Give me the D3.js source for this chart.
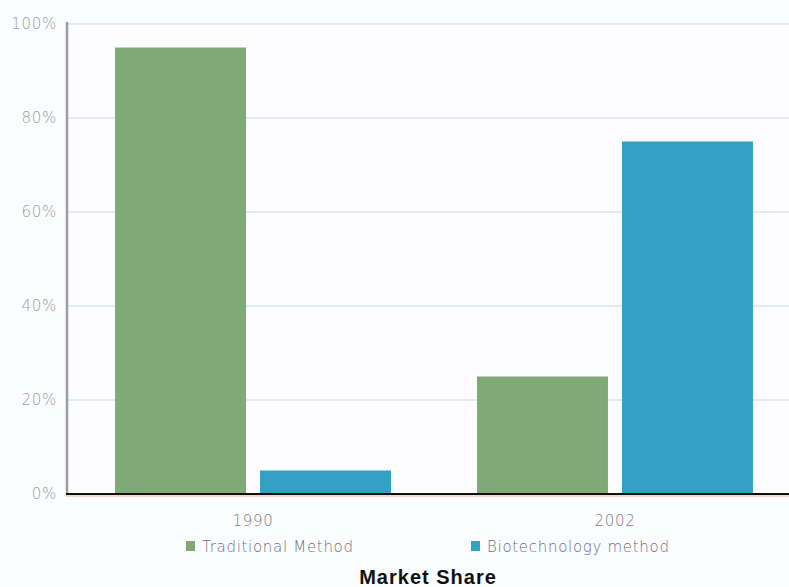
<!DOCTYPE html>
<html>
<head>
<meta charset="utf-8">
<script src="https://cdn.jsdelivr.net/npm/d3@7"></script>
<style>
  html, body { margin: 0; padding: 0; background: #fbfcfe; }
  svg { display: block; }
</style>
</head>
<body>
<svg id="chart" width="789" height="587"></svg>
<script>
// Market share by production method
const years = ["1990", "2002"];
const seriesNames = ["Traditional Method", "Biotechnology method"];
const traditional = [95, 25];
const biotechnology = [5, 75];
const yTicks = [0, 20, 40, 60, 80, 100];
const seriesColors = ["#7faa78", "#35a0c6"];

const rows = years.map((yr, i) => ({ year: yr, values: [traditional[i], biotechnology[i]] }));

const W = 789, H = 587;
const plotLeft = 68, plotTop = 24, plotBottom = 494;
const labelFont = "'DejaVu Sans', sans-serif";

const svg = d3.select("#chart");

svg.append("rect").attr("width", W).attr("height", H).attr("fill", "#fbfcfe");
svg.append("rect").attr("x", plotLeft).attr("y", plotTop).attr("width", W - plotLeft).attr("height", plotBottom - plotTop).attr("fill", "#fdfdff");

const y = d3.scaleLinear().domain([0, 100]).range([plotBottom, plotTop]);
const x0 = d3.scaleBand().domain(years).range([plotLeft, 800]).paddingInner(0.2376).paddingOuter(0.13);
const x1 = d3.scaleBand().domain(d3.range(seriesNames.length)).range([0, x0.bandwidth()]).paddingInner(0.0966);

// horizontal grid
svg.append("g")
  .selectAll("line")
  .data(yTicks.filter(t => t > 0))
  .join("line")
  .attr("x1", plotLeft).attr("x2", W)
  .attr("y1", d => y(d)).attr("y2", d => y(d))
  .attr("stroke", "#d6e4ef").attr("stroke-width", 1.5);

// y tick labels
const yAxis = d3.axisLeft(y).tickValues(yTicks).tickFormat(d => d + "%").tickSize(0).tickPadding(11);
const gy = svg.append("g").attr("transform", `translate(${plotLeft},0)`).call(yAxis);
gy.select(".domain").remove();
gy.selectAll("text")
  .attr("fill", "#9a9ea4")
  .style("font-family", labelFont)
  .style("font-weight", "200")
  .style("letter-spacing", "0.7px")
  .style("font-size", "15px");

// bars
svg.append("g")
  .selectAll("g")
  .data(rows)
  .join("g")
  .attr("transform", d => `translate(${x0(d.year)},0)`)
  .selectAll("rect")
  .data(d => d.values.map((v, i) => ({ v, i })))
  .join("rect")
  .attr("x", d => x1(d.i))
  .attr("width", x1.bandwidth())
  .attr("y", d => y(d.v))
  .attr("height", d => y(0) - y(d.v))
  .attr("fill", d => seriesColors[d.i]);

// vertical axis line
svg.append("line")
  .attr("x1", plotLeft - 1).attr("x2", plotLeft - 1)
  .attr("y1", plotTop - 2).attr("y2", plotBottom)
  .attr("stroke", "#9a9ea4").attr("stroke-width", 2.5);

// baseline
svg.append("line")
  .attr("x1", plotLeft - 2).attr("x2", W)
  .attr("y1", plotBottom + 2).attr("y2", plotBottom + 2)
  .attr("stroke", "#f3d6cc").attr("stroke-width", 2);
svg.append("line")
  .attr("x1", plotLeft - 2).attr("x2", W)
  .attr("y1", plotBottom).attr("y2", plotBottom)
  .attr("stroke", "#111").attr("stroke-width", 2);

// category labels
const xAxis = d3.axisBottom(x0).tickSize(0).tickPadding(0);
const gx = svg.append("g").attr("transform", `translate(0,${plotBottom + 21})`).call(xAxis);
gx.select(".domain").remove();
gx.selectAll("text")
  .attr("fill", "#7a7f86")
  .style("font-family", labelFont)
  .style("font-weight", "200")
  .style("letter-spacing", "0.7px")
  .style("font-size", "15px");

// legend, one entry under each category
const legend = svg.append("g")
  .selectAll("g")
  .data(seriesNames)
  .join("g")
  .attr("transform", (d, i) => `translate(${[186, 471][i]},${541})`);
legend.append("rect")
  .attr("width", 9).attr("height", 10)
  .attr("fill", (d, i) => seriesColors[i]);
legend.append("text")
  .attr("x", 16).attr("y", 11)
  .attr("fill", "#6d7278")
  .style("font-family", labelFont)
  .style("font-weight", "200")
  .style("letter-spacing", "0.7px")
  .style("font-size", "15px")
  .text(d => d);

// title
svg.append("text")
  .attr("x", 428).attr("y", 584)
  .attr("text-anchor", "middle")
  .attr("fill", "#111")
  .style("font-family", "'Liberation Sans', Arial, sans-serif")
  .style("font-weight", "bold")
  .style("letter-spacing", "1px")
  .style("font-size", "20px")
  .text("Market Share");
</script>
</body>
</html>
